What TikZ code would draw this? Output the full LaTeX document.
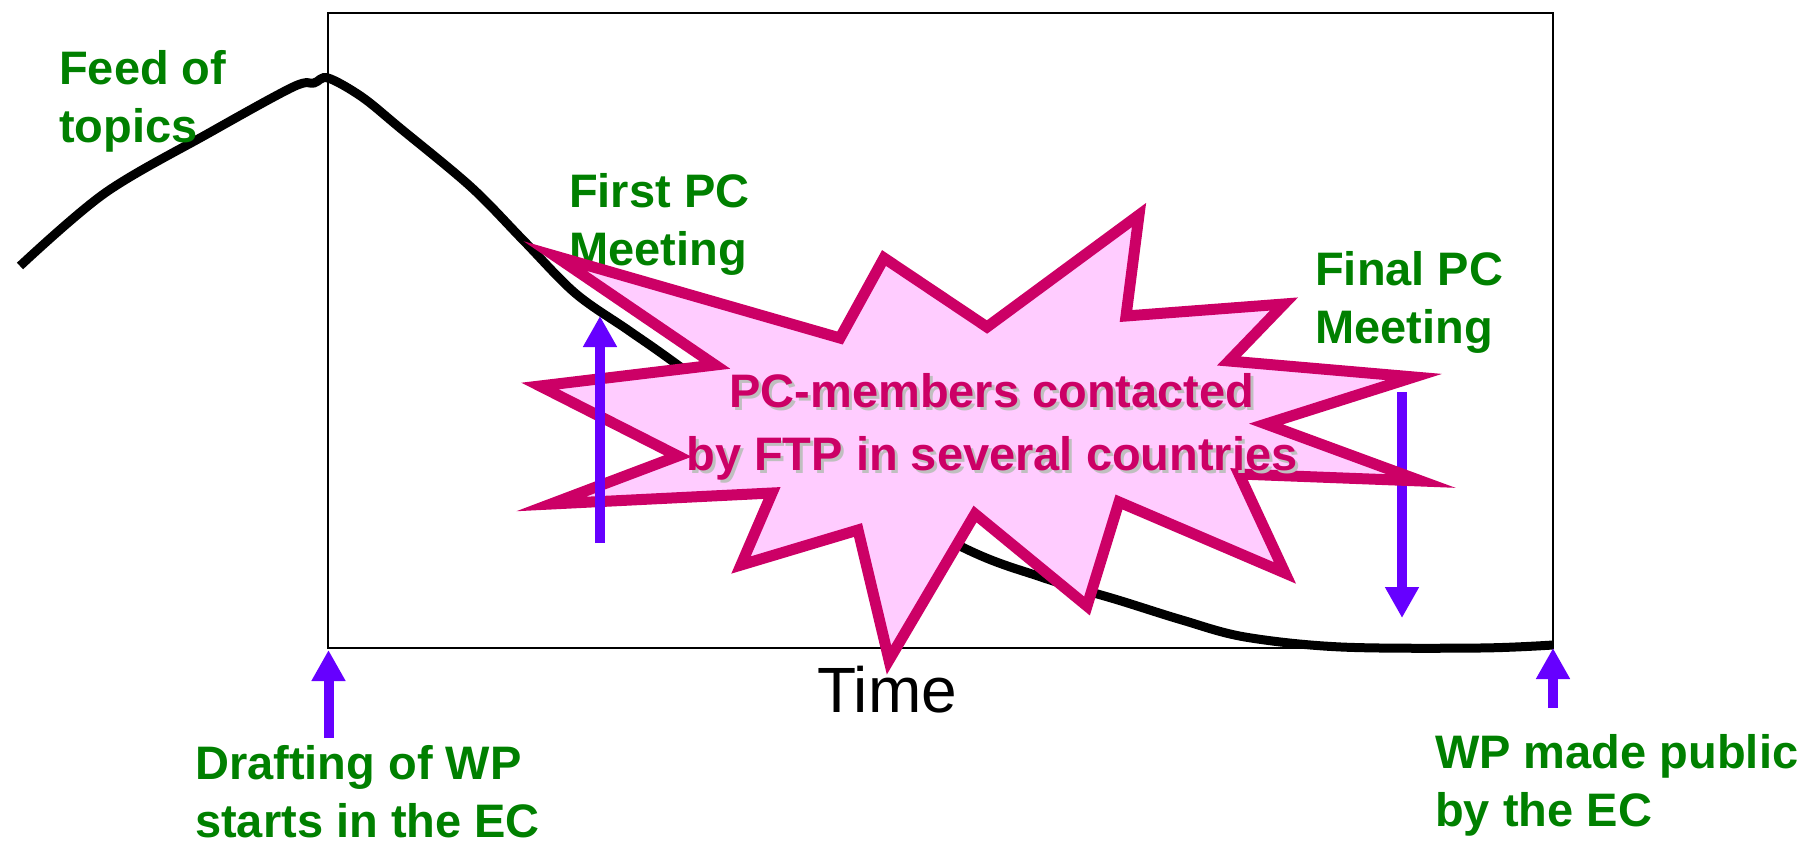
\documentclass[tikz,border=0pt]{standalone}
\usepackage{fontspec}
\setmainfont{Liberation Sans}
\usetikzlibrary{arrows.meta}

\definecolor{labgreen}{HTML}{008000}
\definecolor{arrpurple}{HTML}{6600FF}
\definecolor{starred}{HTML}{CC0066}
\definecolor{starpink}{HTML}{FFCCFF}

\begin{document}
\begin{tikzpicture}[x=1pt, y=-1pt]
	\tikzset{
	    label/.style= {anchor=base west, inner sep=0, align=left, text=labgreen, font=\fontsize{47}{57.5}\selectfont\bfseries},
	    mark arrow/.style= {draw=arrpurple, line width=10pt, -{Triangle[length=31pt, width=32pt]}},
	    burst/.style= {draw=starred, fill=starpink, line width=11pt, line join=miter, miter limit=20},
	    burst text/.style= {anchor=base, inner sep=0, align=center, font=\fontsize{47}{63}\selectfont\bfseries},
	}
	\useasboundingbox (0,0) rectangle (1820,851);
	
	% time frame
	\draw[line width=2pt] (328,13) rectangle (1553,648);
	\node[anchor=base, inner sep=0, font=\fontsize{64}{70}\selectfont] (time) at (887,712) {Time};
	
	% activity curve
	\draw[line width=9pt, line cap=butt] plot[smooth, tension=0.55] coordinates {
	    (20,266) (105,193) (209,133) (293,87) (314,83) (328,78) (362,97) (400,128)
	    (471,187) (523,240) (575,293) (628,330) (675,363) (800,455) (958,545)
	    (1041,577) (1118,600) (1182,620) (1245,637) (1341,647) (1480,648) (1553,645)};
	
	\node[label] (feed) at (59,142) {Feed of\\topics};
	\node[label] (first) at (569,265) {First PC\\Meeting};
	\node[label] (final) at (1315,343) {Final PC\\Meeting};
	\node[label] (draft) at (195,837) {Drafting of WP\\starts in the EC};
	\node[label] (public) at (1435,826) {WP made public\\by the EC};
	
	% final meeting arrow lies under the burst
	\coordinate (fintop) at (1402,392);
	\coordinate (finbot) at (1402,618);
	\draw[mark arrow] (fintop) -- (finbot);
	
	% burst
	\draw[burst] (555,256) -- (840,338) -- (884,258) -- (987,327) -- (1139,215)
	    -- (1126,316) -- (1284,304) -- (1229,361) -- (1414,377) -- (1266,424)
	    -- (1421,481) -- (1239,474) -- (1285,573) -- (1119,502) -- (1087,606)
	    -- (975,514) -- (889,660) -- (858,530) -- (741,565) -- (772,493)
	    -- (551,504) -- (678,456) -- (540,386) -- (715,365) -- cycle;
	\node[burst text, text=black!25] (msgshadow) at (995,473) {PC-members contacted\\by FTP in several countries};
	\node[burst text, text=starred] (msg) at (992,470) {PC-members contacted\\by FTP in several countries};
	
	% remaining arrows
	\coordinate (firstbot) at (600,543);
	\coordinate (firsttop) at (600,316);
	\coordinate (draftbot) at (328.5,738);
	\coordinate (drafttop) at (328.5,650);
	\coordinate (pubbot) at (1553,708);
	\coordinate (pubtop) at (1553,648);
	\draw[mark arrow] (firstbot) -- (firsttop);
	\draw[mark arrow] (draftbot) -- (drafttop);
	\draw[mark arrow] (pubbot) -- (pubtop);
\end{tikzpicture}
\end{document}
